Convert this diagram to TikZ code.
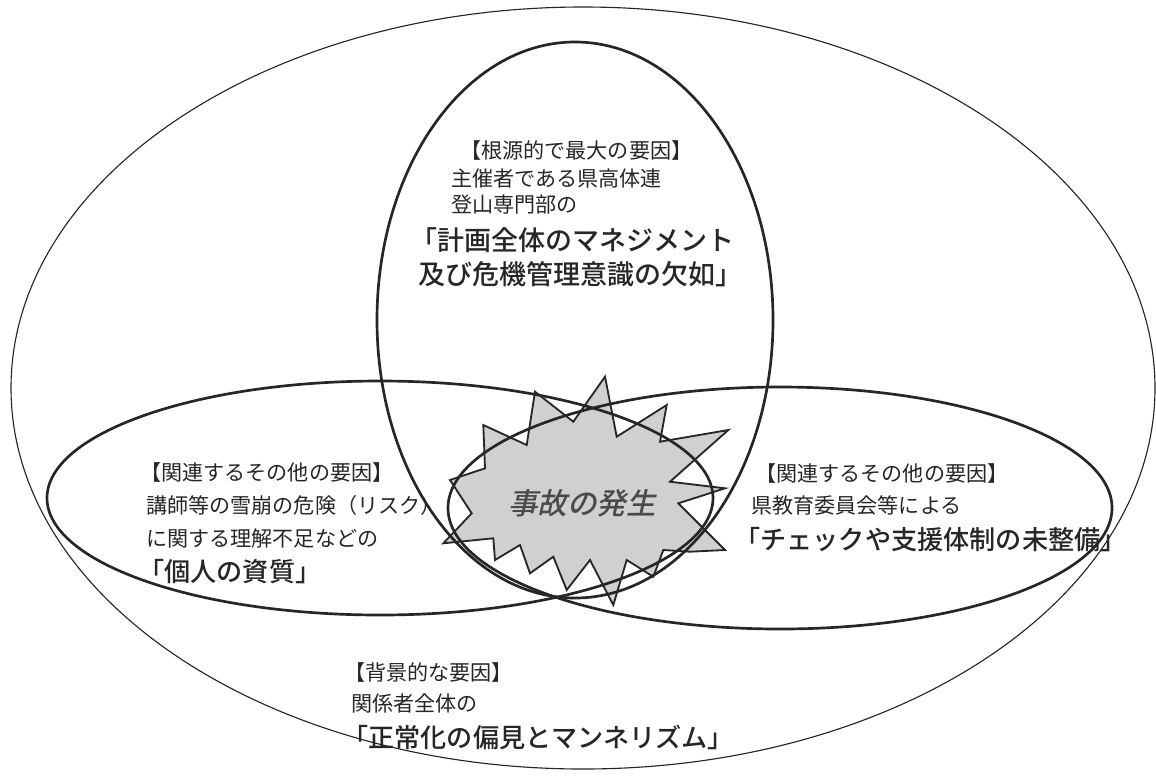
\documentclass[tikz,border=0pt]{standalone}
\usepackage{fontspec}
\setmainfont{Noto Sans CJK JP}[BoldFont={Noto Sans CJK JP Medium}]
\newfontfamily\slantjp{Noto Sans CJK JP}[FakeSlant=0.22,BoldFont={Noto Sans CJK JP Medium}]
\definecolor{ink}{HTML}{262626}
\definecolor{burst}{HTML}{D0D0D0}
\definecolor{burstink}{HTML}{4A4A4A}
\definecolor{paper}{HTML}{FFFFFF}
\begin{document}
\begin{tikzpicture}[x=0.025cm,y=-0.025cm,
outerline/.style={draw=ink,line width=0.8pt},causeline/.style={draw=ink,line width=1.9pt},burstline/.style={draw=ink,fill=burst,line width=1.3pt,line join=miter},note/.style={anchor=west,inner sep=0pt,text=ink,font=\fontsize{15}{18}\selectfont},keynote/.style={anchor=west,inner sep=0pt,text=ink,font=\fontsize{18.6}{22}\selectfont\bfseries}]
\fill[paper] (0,0) rectangle (1156,778);
\useasboundingbox (0,0) rectangle (1156,778);
% accident star
\draw[burstline] (450,480) -- (471.7,513.3) -- (443.3,543.3) -- (493.3,538.3) -- (495,560) -- (520,545) -- (530,573.3) -- (553.3,556.7) -- (566.7,590) -- (590,560) -- (613.3,605) -- (626.7,560) -- (653.3,576.7) -- (663.3,550) -- (690,551.7) -- (725,550) -- (678.3,503.3) -- (725,488.3) -- (670,481.7) -- (728.3,430) -- (660,441.7) -- (666.7,405) -- (616.7,436.7) -- (605,376.7) -- (573.3,421.7) -- (535,391.7) -- (526.7,445) -- (483.3,425) -- (485,468.3) -- cycle;
% the four circles of causes
\draw[outerline] (583,388) ellipse [x radius=572,y radius=381];
\draw[causeline] (575,320) ellipse [x radius=198,y radius=278];
\draw[causeline] (380,498) ellipse [x radius=333,y radius=117];
\draw[causeline] (780,508) ellipse [x radius=332,y radius=121];
\node[inner sep=0pt,text=burstink,font=\fontsize{21}{24}\selectfont\slantjp\bfseries] (accident) at (582,503) {事故の発生};
% root cause
\node[note] (root1) at (460,150) {【根源的で最大の要因】};
\node[note] (root2) at (451,178) {主催者である県高体連};
\node[note] (root3) at (451,205) {登山専門部の};
\node[keynote,font=\fontsize{19.2}{22}\selectfont\bfseries] (root4) at (410,240) {「計画全体のマネジメント};
\node[keynote,font=\fontsize{19.2}{22}\selectfont\bfseries] (root5) at (418,274) {及び危機管理意識の欠如」};
% personal
\node[note] (pers1) at (140,472) {【関連するその他の要因】};
\node[note] (pers2) at (146,505) {講師等の雪崩の危険（リスク）};
\node[note] (pers3) at (146,538) {に関する理解不足などの};
\node[keynote] (pers4) at (138,572) {「個人の資質」};
% support
\node[note] (supp1) at (755,473) {【関連するその他の要因】};
\node[note] (supp2) at (751,505) {県教育委員会等による};
\node[keynote] (supp3) at (734,540) {「チェックや支援体制の未整備」};
% background
\node[note] (back1) at (344,672) {【背景的な要因】};
\node[note] (back2) at (351,703) {関係者全体の};
\node[keynote] (back3) at (342,737) {「正常化の偏見とマンネリズム」};
\end{tikzpicture}
\end{document}
